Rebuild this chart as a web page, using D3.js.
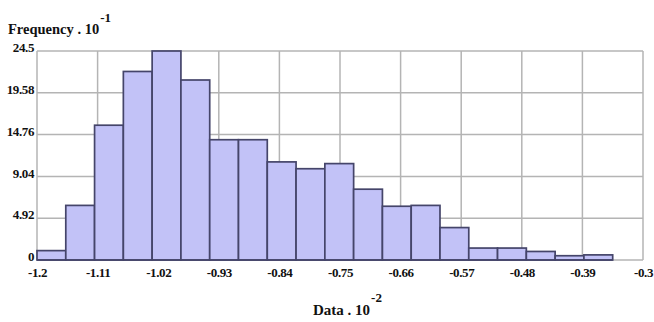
<!DOCTYPE html>
<html>
<head>
<meta charset="utf-8">
<script src="https://cdn.jsdelivr.net/npm/d3@7"></script>
<style>
  html, body { margin: 0; padding: 0; background: #fff; }
  svg { display: block; }
  text { font-family: "Liberation Serif", "Times New Roman", serif; font-weight: bold; fill: #111; }
</style>
</head>
<body>
<svg id="chart" width="654" height="322"></svg>
<script>
// Histogram: 20 equal bins between the lowest and highest observation
const dataMin = -1.2;
const dataMax = -0.345;
const frequencies = [1.1, 6.4, 15.8, 22.1, 24.5, 21.1, 14.1, 14.1, 11.5, 10.7,
                     11.3, 8.3, 6.3, 6.4, 3.8, 1.4, 1.4, 1.0, 0.5, 0.6];

const xTickValues = [-1.2, -1.11, -1.02, -0.93, -0.84, -0.75, -0.66, -0.57, -0.48, -0.39, -0.3];
const xTickLabels = ["-1.2", "-1.11", "-1.02", "-0.93", "-0.84", "-0.75", "-0.66", "-0.57", "-0.48", "-0.39", "-0.3"];
const yTickLabels = ["0", "4.92", "9.04", "14.76", "19.58", "24.5"];
const yMax = 24.5;

const svg = d3.select("#chart");
const plotLeft = 37, plotRight = 643, plotTop = 51, plotBottom = 260;

const x = d3.scaleLinear().domain([-1.2, -0.3]).range([plotLeft, plotRight]);
const y = d3.scaleLinear().domain([0, yMax]).range([plotBottom, plotTop]);

const binWidth = (dataMax - dataMin) / frequencies.length;
const bins = frequencies.map((f, i) => ({
  x0: dataMin + i * binWidth,
  x1: dataMin + (i + 1) * binWidth,
  f
}));

// evenly spaced horizontal gridlines
const yTickValues = yTickLabels.map((_, i) => i * yMax / (yTickLabels.length - 1));

const grid = svg.append("g").attr("stroke", "#b4b4b4").attr("stroke-width", 1.5);
grid.selectAll("line.h").data(yTickValues).join("line")
  .attr("class", "h")
  .attr("x1", plotLeft).attr("x2", plotRight)
  .attr("y1", d => y(d)).attr("y2", d => y(d));
grid.selectAll("line.v").data(xTickValues).join("line")
  .attr("class", "v")
  .attr("x1", d => x(d)).attr("x2", d => x(d))
  .attr("y1", plotTop).attr("y2", plotBottom);

// bars
svg.append("g").selectAll("rect").data(bins).join("rect")
  .attr("x", d => x(d.x0))
  .attr("width", d => x(d.x1) - x(d.x0))
  .attr("y", d => y(d.f))
  .attr("height", d => y(0) - y(d.f))
  .attr("fill", "#c2c2f7")
  .attr("stroke", "#45456a")
  .attr("stroke-width", 1.7);

// baseline under the bars
svg.append("line")
  .attr("x1", plotLeft).attr("x2", x(dataMax))
  .attr("y1", plotBottom).attr("y2", plotBottom)
  .attr("stroke", "#45456a").attr("stroke-width", 1.7);

const labelStyle = sel => sel
  .style("font-family", "'Liberation Serif', serif")
  .style("font-weight", "bold")
  .style("font-size", "13px")
  .style("letter-spacing", "-0.4px")
  .attr("fill", "#111");

// y axis labels
const yAxis = d3.axisLeft(y).tickValues(yTickValues)
  .tickFormat((d, i) => yTickLabels[i]).tickSize(0).tickPadding(3);
const gy = svg.append("g").attr("transform", `translate(${plotLeft},0)`).call(yAxis);
gy.select(".domain").remove();
gy.selectAll("text").attr("dy", "0.05em").call(labelStyle);

// x axis labels
const xAxis = d3.axisBottom(x).tickValues(xTickValues)
  .tickFormat((d, i) => xTickLabels[i]).tickSize(0).tickPadding(8);
const gx = svg.append("g").attr("transform", `translate(0,${plotBottom})`).call(xAxis);
gx.select(".domain").remove();
gx.selectAll("text").call(labelStyle);

// axis titles with power-of-ten exponents
const yTitle = svg.append("text").attr("x", 8).attr("y", 34).style("font-size", "14.5px");
yTitle.append("tspan").text("Frequency . 10");
yTitle.append("tspan").attr("dx", 1).attr("dy", -12).style("font-size", "13px").text("-1");

const xTitle = svg.append("text").attr("x", 313).attr("y", 315).style("font-size", "15px");
xTitle.append("tspan").text("Data . 10");
xTitle.append("tspan").attr("dx", 1).attr("dy", -13).style("font-size", "13px").text("-2");
</script>
</body>
</html>
